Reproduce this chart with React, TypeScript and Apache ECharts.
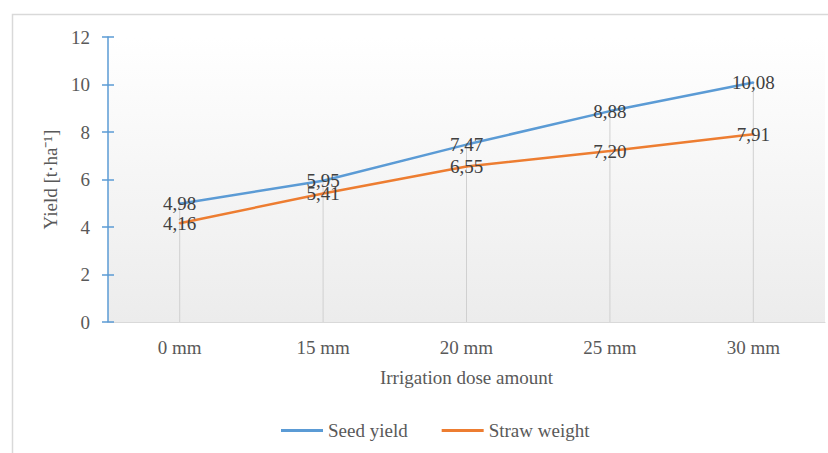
import React, { useEffect, useRef } from "react";
import * as echarts from "echarts";

const categories = ["0 mm", "15 mm", "20 mm", "25 mm", "30 mm"];
const seedYield = [4.98, 5.95, 7.47, 8.88, 10.08];
const strawWeight = [4.16, 5.41, 6.55, 7.2, 7.91];
const yTicks = { min: 0, max: 12, interval: 2 };

const SERIF = "Liberation Serif, Times New Roman, serif";
const BLUE = "#5B9BD5";
const ORANGE = "#ED7D31";
const TEXT = "#595959";
const FS = 19;

const fmt = (v: number) => v.toFixed(2).replace(".", ",");

export default function App() {
  const ref = useRef<HTMLDivElement>(null);

  useEffect(() => {
    document.body.style.margin = "0";
    if (!ref.current) return;
    const chart = echarts.init(ref.current, undefined, { renderer: "svg" });

    // drop lines reach from the axis up to the higher of the two series
    const dropTops = seedYield.map((v, i) => Math.max(v, strawWeight[i]));

    const lineLabel = {
      show: true,
      position: "inside" as const,
      fontFamily: SERIF,
      fontSize: FS,
      color: "#404040",
      formatter: (p: any) => fmt(p.value),
    };

    chart.setOption({
      animation: false,
      backgroundColor: "#ffffff",
      graphic: [
        {
          type: "rect",
          shape: { x: 12.5, y: 14.5, width: 830, height: 460 },
          style: { fill: "none", stroke: "#d9d9d9", lineWidth: 1.5 },
          z: -10,
          silent: true,
        },
      ],
      grid: {
        left: 108,
        right: 3,
        top: 37,
        bottom: 131,
        show: true,
        borderWidth: 0,
        backgroundColor: new echarts.graphic.LinearGradient(0, 0, 0, 1, [
          { offset: 0, color: "#ffffff" },
          { offset: 1, color: "#ececec" },
        ]),
      },
      legend: {
        data: ["Seed yield", "Straw weight"],
        bottom: 8,
        left: 276,
        itemWidth: 42,
        itemHeight: 3,
        itemGap: 34,
        icon: "rect",
        textStyle: { fontFamily: SERIF, fontSize: FS, color: TEXT },
      },
      xAxis: {
        type: "category",
        data: categories,
        boundaryGap: true,
        axisLine: { lineStyle: { color: "#d9d9d9", width: 1 } },
        axisTick: { show: false },
        axisLabel: { fontFamily: SERIF, fontSize: FS, color: TEXT, margin: 16 },
        name: "Irrigation dose amount",
        nameLocation: "middle",
        nameGap: 46,
        nameTextStyle: { fontFamily: SERIF, fontSize: FS, color: TEXT },
      },
      yAxis: [
        {
          type: "value",
          min: yTicks.min,
          max: yTicks.max,
          interval: yTicks.interval,
          axisLine: { show: true, lineStyle: { color: BLUE, width: 1.5 } },
          axisTick: { show: true, length: 6, lineStyle: { color: BLUE, width: 1.5 } },
          splitLine: { show: false },
          axisLabel: { fontFamily: SERIF, fontSize: FS, color: TEXT, margin: 18 },
          name: "Yield [t·ha⁻¹]",
          nameLocation: "middle",
          nameGap: 44,
          nameTextStyle: { fontFamily: SERIF, fontSize: FS, color: TEXT },
        },
        {
          // inner half of the crossing tick marks
          type: "value",
          position: "left",
          min: yTicks.min,
          max: yTicks.max,
          interval: yTicks.interval,
          axisLine: { show: false },
          axisTick: { show: true, inside: true, length: 6, lineStyle: { color: BLUE, width: 1.5 } },
          axisLabel: { show: false },
          splitLine: { show: false },
        },
      ],
      series: [
        {
          name: "drop",
          type: "bar",
          data: dropTops,
          barWidth: 1,
          itemStyle: { color: "#d0d0d0" },
          silent: true,
          z: 1,
        },
        {
          name: "Seed yield",
          type: "line",
          data: seedYield,
          showSymbol: true,
          symbol: "circle",
          symbolSize: 2,
          lineStyle: { color: BLUE, width: 2.5 },
          itemStyle: { color: BLUE },
          label: lineLabel,
          z: 3,
        },
        {
          name: "Straw weight",
          type: "line",
          data: strawWeight,
          showSymbol: true,
          symbol: "circle",
          symbolSize: 2,
          lineStyle: { color: ORANGE, width: 2.5 },
          itemStyle: { color: ORANGE },
          label: lineLabel,
          z: 3,
        },
      ],
    });

    return () => chart.dispose();
  }, []);

  return <div ref={ref} style={{ width: 828, height: 453 }} />;
}
